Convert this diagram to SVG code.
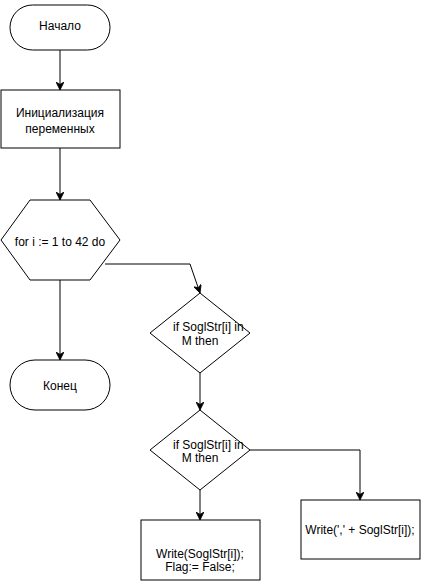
<svg xmlns="http://www.w3.org/2000/svg" width="421" height="581" viewBox="0 0 421 581">
<style>
.s{fill:#fff;stroke:#000;stroke-width:1}
.c{fill:none;stroke:#000;stroke-width:1}
text{font-family:"Liberation Sans",Arial,sans-serif;font-size:12px;fill:#000}
.m{text-anchor:middle}
</style>
<defs>
<marker id="a" viewBox="0 0 10 10" refX="10" refY="5" markerWidth="8" markerHeight="8" markerUnits="userSpaceOnUse" orient="auto">
<path d="M0,0 L10,5 L0,10 L3,5 Z" fill="#000" stroke="#000" stroke-width="1"/>
</marker>
</defs>
<rect width="421" height="581" fill="#fff"/>
<g id="connectors">
<path class="c" d="M60,50 V90" marker-end="url(#a)"/>
<path class="c" d="M60,148 V200" marker-end="url(#a)"/>
<path class="c" d="M60,280 V360" marker-end="url(#a)"/>
<path class="c" d="M105,264 H190 L200,293" marker-end="url(#a)"/>
<path class="c" d="M200,373 V410" marker-end="url(#a)"/>
<path class="c" d="M250,450 H360 V500" marker-end="url(#a)"/>
<path class="c" d="M200,490 V520" marker-end="url(#a)"/>
</g>
<g id="start">
<rect class="s" x="10" y="5" width="100" height="45" rx="22.5"/>
<text class="m" x="60" y="30">Начало</text>
</g>
<g id="init">
<rect class="s" x="1" y="90" width="119" height="58"/>
<text class="m" x="60" y="117">Инициализация</text>
<text class="m" x="60" y="133">переменных</text>
</g>
<g id="loop">
<polygon class="s" points="1,240 30,200 90,200 120,240 90,280 30,280"/>
<text class="m" x="60" y="246">for i := 1 to 42 do</text>
</g>
<g id="end">
<rect class="s" x="10" y="360" width="100" height="50" rx="25"/>
<text class="m" x="60" y="390">Конец</text>
</g>
<g id="if1">
<polygon class="s" points="200,293 250,333 200,373 150,333"/>
<text x="173" y="331">if SoglStr[i] in</text>
<text class="m" x="200" y="345">M then</text>
</g>
<g id="if2">
<polygon class="s" points="200,410 250,450 200,490 150,450"/>
<text x="173" y="449">if SoglStr[i] in</text>
<text class="m" x="200" y="462">M then</text>
</g>
<g id="write1">
<rect class="s" x="141" y="520" width="119" height="60"/>
<text class="m" x="200" y="558">Write(SoglStr[i]);</text>
<text class="m" x="200" y="571">Flag:= False;</text>
</g>
<g id="write2">
<rect class="s" x="301" y="500" width="119" height="59"/>
<text class="m" x="360" y="534">Write(',' + SoglStr[i]);</text>
</g>
</svg>
